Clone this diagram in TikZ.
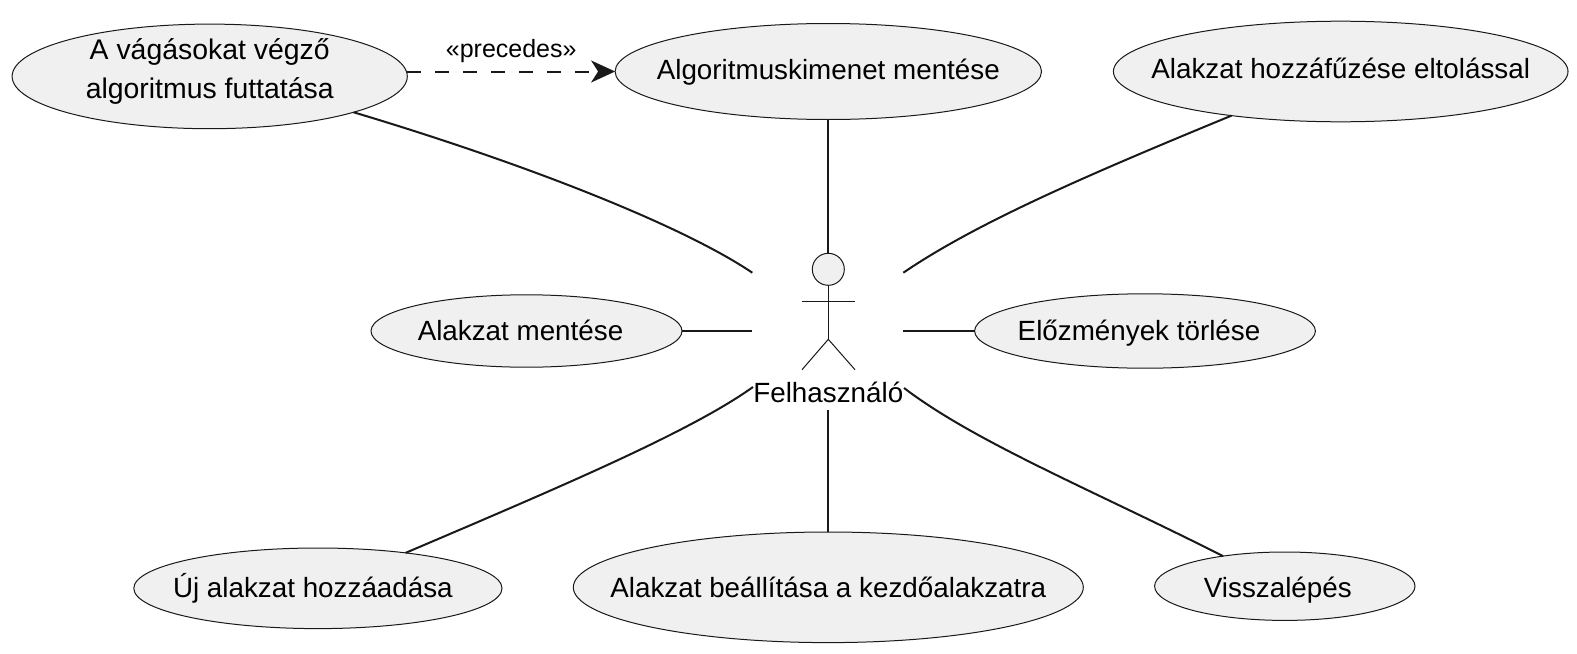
\documentclass[tikz,border=0pt]{standalone}
\usepackage{fontspec}
\setmainfont{Liberation Sans}
\usetikzlibrary{arrows.meta,shapes.geometric}

\begin{document}
\begin{tikzpicture}[x=0.5pt,y=-0.5pt,>={Stealth[length=12pt,width=11pt,inset=3.5pt]},
usecase/.style={ellipse,draw=black!90,line width=0.5pt,fill=black!6,align=center,font=\fontsize{13.9}{19.2}\selectfont,text height=11pt,inner xsep=-40pt,inner ysep=-20pt,outer sep=0pt},
link/.style={line width=1pt,draw=black!90},
stick/.style={line width=0.5pt,draw=black!90}]
\useasboundingbox (0,0) rectangle (1577,653);
\node[usecase,minimum width=197.6pt,minimum height=52.3pt,font=\fontsize{14.2}{19.6}\selectfont,text height=30pt,text depth=7.5pt] (runalg) at (209.7,76.4)
{A vágásokat végző\\algoritmus futtatása};
\node[usecase,minimum width=213.2pt,minimum height=48pt,text depth=3.2pt] (saveout) at (828.3,71.5)
{Algoritmuskimenet mentése};
\node[usecase,minimum width=227.3pt,minimum height=50.3pt,text depth=4.2pt] (append) at (1340.7,71.5)
{Alakzat hozzáfűzése eltolással};
\node[usecase,minimum width=155.5pt,minimum height=36.2pt,text depth=2pt] (saveshape) at (526.5,331)
{Alakzat mentése\hspace{6pt}};
\node[usecase,minimum width=170.4pt,minimum height=37.2pt,text depth=2pt] (clear) at (1145,331)
{Előzmények törlése\hspace{6pt}};
\node[usecase,minimum width=184.1pt,minimum height=40.3pt,text depth=1.6pt] (newshape) at (317.9,588.3)
{Új alakzat hozzáadása\hspace{5pt}};
\node[usecase,minimum width=255pt,minimum height=55.3pt,text depth=1.3pt] (reset) at (828.3,587.3)
{Alakzat beállítása a kezdőalakzatra};
\node[usecase,minimum width=130.2pt,minimum height=34.2pt,text height=11.1pt,text depth=0pt] (undo) at (1284.8,586.2)
{Visszalépés\hspace{7pt}};
% actor
\node[circle,draw=black!90,line width=0.5pt,fill=black!6,minimum size=16pt,inner sep=0pt,outer sep=0pt] (head) at (828.3,269.3) {};
\node[font=\fontsize{13.9}{19}\selectfont,inner sep=0pt] (actor) at (828.3,392) {Felhasználó};
\coordinate (neck) at (head.south);
\coordinate (hip) at (828.3,339.3);
\coordinate (armL) at (802,301.3);
\coordinate (armR) at (855,301.3);
\coordinate (footL) at (802,369.7);
\coordinate (footR) at (855,369.7);
\draw[stick] (neck)--(hip);
\draw[stick] (armL)--(armR);
\draw[stick] (footL)--(hip)--(footR);
% free ends round the actor
\coordinate (nw) at (752.3,272.7);
\coordinate (ne) at (903.3,272.7);
\coordinate (w) at (752.3,331);
\coordinate (e) at (903.3,331);
\coordinate (sw) at (753,387);
\coordinate (se) at (904,388);
\coordinate (s) at (828.3,410);
\draw[link] (runalg.-14.5) .. controls (520,162) and (680,224) .. (nw);
\draw[link] (saveout)--(head);
\draw[link] (append.-158.4) .. controls (1080,178) and (975,224) .. (ne);
\draw[link] (saveshape)--(w);
\draw[link] (clear)--(e);
\draw[link] (newshape.22.6) .. controls (560,487) and (690,432) .. (sw);
\draw[link] (reset)--(s);
\draw[link] (undo.154) .. controls (1090,489) and (975,442) .. (se);
\draw[link,->,dash pattern=on 7pt off 7pt] (runalg.east |- saveout.west)--(saveout.west) node[midway,above=3.8pt,inner sep=0pt,font=\fontsize{12.5}{15}\selectfont] (prec) {«precedes»};
\end{tikzpicture}
\end{document}
